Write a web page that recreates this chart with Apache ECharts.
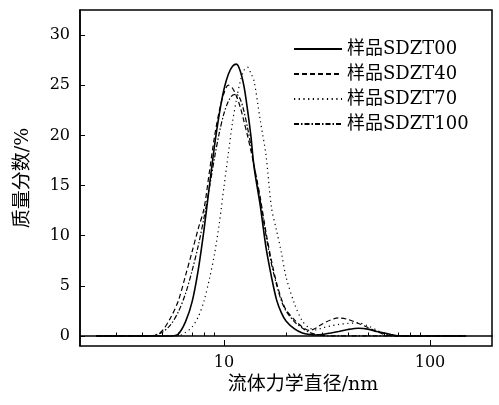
<!DOCTYPE html>
<html>
<head>
<meta charset="utf-8">
<script src="https://cdn.jsdelivr.net/npm/echarts@6/dist/echarts.min.js"></script>
<style>
  html, body { margin: 0; padding: 0; background: #fff; }
  #chart { width: 499px; height: 405px; }
</style>
</head>
<body>
<div id="chart"></div>
<script>
  // 流体力学直径 (nm)
  var diameters = [2.4, 4, 4.5, 5, 5.5, 6, 6.5, 7, 7.5, 8, 8.5, 9, 9.5, 10, 10.5, 11, 11.5, 12, 12.5, 13, 13.5, 14,
    15, 16, 17, 18, 19, 20, 22, 24, 26, 28, 30, 33, 36, 40, 45, 50, 55, 60, 65, 70, 80, 150]
  var sdzt00 = [0, 0, 0, 0, 0, 0.2, 1.4, 3.4, 6.6, 10.6, 15.0, 19.0, 22.2, 24.6, 26.1, 26.9, 27.1, 26.4, 24.9, 22.6, 20.0, 16.8,
    13.0, 8.8, 5.9, 3.6, 2.3, 1.5, 0.7, 0.3, 0.15, 0.1, 0.15, 0.3, 0.45, 0.65, 0.77, 0.68, 0.45, 0.3, 0.13, 0.02, 0, 0]
  var sdzt40 = [0, 0, 0, 0.5, 1.8, 3.5, 6.0, 8.4, 10.7, 12.7, 16.4, 19.9, 22.5, 24.2, 25.0, 24.7, 23.9, 22.8, 21.4, 20.0, 18.5, 17.0,
    13.8, 10.3, 7.5, 5.3, 3.7, 2.6, 1.6, 0.9, 0.55, 0.8, 1.2, 1.6, 1.8, 1.65, 1.25, 0.85, 0.45, 0.15, 0.03, 0, 0, 0]
  var sdzt70 = [0, 0, 0, 0, 0, 0, 0.35, 0.9, 1.9, 3.5, 5.7, 8.2, 11.3, 14.9, 18.2, 21.3, 23.6, 25.4, 26.5, 26.8, 26.2, 25.4,
    21.5, 18.0, 12.8, 10.5, 8.3, 5.9, 3.2, 1.5, 0.8, 0.6, 0.8, 1.0, 1.15, 1.25, 1.3, 1.0, 0.6, 0.2, 0.03, 0, 0, 0]
  var sdzt100 = [0, 0, 0.05, 0.35, 1.1, 2.4, 4.2, 6.5, 9.0, 11.8, 14.8, 17.8, 20.3, 22.2, 23.4, 24.0, 24.1, 23.6, 22.4, 20.8, 19.0, 17.0,
    13.5, 10.0, 7.2, 5.1, 3.5, 2.5, 1.4, 0.8, 0.35, 0.15, 0.05, 0, 0, 0, 0, 0, 0, 0, 0, 0, 0, 0]
  var seriesNames = ['样品SDZT00', '样品SDZT40', '样品SDZT70', '样品SDZT100']

  var yTicks = [0, 5, 10, 15, 20, 25, 30]
  var xLabels = [10, 100]
  var xMinorTicks = [3, 4, 5, 6, 7, 8, 9, 20, 30, 40, 50, 60, 70, 80, 90]

  var font = '"DejaVu Serif", "Noto Sans CJK SC", serif'

  function pairs (vals) {
    return diameters.map(function (d, i) { return [d, vals[i]] })
  }

  function line (name, vals, type, width) {
    return {
      name: name,
      type: 'line',
      data: pairs(vals),
      symbol: 'none',
      smooth: 0.3,
      lineStyle: { color: '#000', width: width, type: type },
      itemStyle: { color: '#000' }
    }
  }

  var dom = echarts.init(document.getElementById('chart'))
  dom.setOption({
    animation: false,
    textStyle: { fontFamily: font, color: '#000' },
    grid: {
      left: 80, right: 7, top: 10, bottom: 59,
      show: true, borderColor: '#000', borderWidth: 1.5
    },
    legend: {
      data: seriesNames,
      orient: 'vertical',
      left: 293,
      top: 40,
      padding: 0,
      itemWidth: 48,
      itemHeight: 12,
      itemGap: 7,
      itemStyle: { opacity: 0 },
      textStyle: { fontFamily: font, fontSize: 18, color: '#000' }
    },
    xAxis: [
      {
        type: 'log',
        logBase: 10,
        min: 2,
        max: 200,
        name: '流体力学直径/nm',
        nameLocation: 'middle',
        nameGap: 28,
        nameTextStyle: { fontFamily: font, fontSize: 19, color: '#000', padding: [0, 0, 0, 34] },
        axisLine: { show: true, lineStyle: { color: '#000', width: 1.5 } },
        axisTick: { show: true, inside: true, length: 3.5, customValues: xMinorTicks, lineStyle: { color: '#000' } },
        axisLabel: { customValues: xLabels, fontFamily: font, fontSize: 16, color: '#000', margin: 9 },
        splitLine: { show: false }
      },
      {
        type: 'log',
        logBase: 10,
        min: 2,
        max: 200,
        position: 'bottom',
        axisLine: { show: false },
        axisTick: { show: true, inside: true, length: 6, customValues: xLabels, lineStyle: { color: '#000' } },
        axisLabel: { show: false },
        splitLine: { show: false }
      }
    ],
    yAxis: {
      type: 'value',
      min: -1,
      max: 32.5,
      name: '质量分数/%',
      nameLocation: 'middle',
      nameGap: 47,
      nameTextStyle: { fontFamily: font, fontSize: 19, color: '#000' },
      axisLine: { show: true, lineStyle: { color: '#000', width: 1.5 } },
      axisTick: { show: true, inside: true, length: 5, customValues: yTicks, lineStyle: { color: '#000' } },
      axisLabel: { customValues: yTicks, fontFamily: font, fontSize: 16, color: '#000', margin: 10 },
      splitLine: { show: false }
    },
    series: [
      line(seriesNames[0], sdzt00, 'solid', 1.6),
      line(seriesNames[1], sdzt40, [5, 3], 1.2),
      line(seriesNames[2], sdzt70, [1.2, 3.5], 1.2),
      line(seriesNames[3], sdzt100, [5, 2, 1.5, 2], 1.2)
    ]
  })
</script>
</body>
</html>
